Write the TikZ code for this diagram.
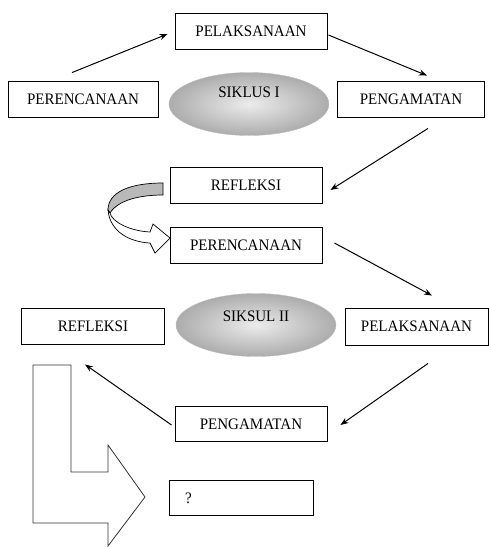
\documentclass[tikz,border=0pt]{standalone}
\usepackage{fontspec}
\setmainfont{Liberation Serif}[FakeStretch=0.94]
\usetikzlibrary{arrows.meta,shapes.geometric}

\begin{document}
\begin{tikzpicture}[x=1pt,y=-1pt,font=\fontsize{16}{18}\selectfont]
        % Setup the styles for the boxes, ovals and arrows
        \tikzset{box style/.style={draw,
                                   line width=0.9pt,
                                   minimum width=152pt,
                                   minimum height=36pt,
                                   inner sep=0pt},
                 oval style/.style={ellipse,
                                    draw=gray!50,
                                    inner color=gray!15,
                                    outer color=gray!65,
                                    minimum width=160pt,
                                    minimum height=63pt},
                 link/.style={line width=1pt,
                              -{Stealth[length=8pt,width=6pt]}}}
        \useasboundingbox (0,0) rectangle (489,547);

        % Siklus I
        \node[box style] at (251,31)  (pel1) {PELAKSANAAN};
        \node[box style, minimum width=150pt] at (83,99) (per1) {PERENCANAAN};
        \node[box style, minimum width=147pt] at (411,99) (pen1) {PENGAMATAN};
        \node[oval style, label={[yshift=12pt]center:SIKLUS I}] at (249,104) (sik1) {};
        \node[box style] at (246,185) (ref1) {REFLEKSI};

        % Siklus II
        \node[box style] at (246,245) (per2) {PERENCANAAN};
        \node[box style, minimum width=143pt] at (93,326) (ref2) {REFLEKSI};
        \node[oval style, label={[yshift=9pt]center:SIKSUL II}] at (256,325) (sik2) {};
        \node[box style, minimum width=143pt, minimum height=37pt] at (416.5,326.5) (pel2) {PELAKSANAAN};
        \node[box style, minimum height=35pt] at (251,424) (pen2) {PENGAMATAN};
        \node[box style, minimum width=144pt, minimum height=35pt,
              text width=112pt, align=left] at (241,498) (ask) {?};

        % Connect the boxes with arrows
        \draw[link] ([xshift=-11pt,yshift=8pt]per1.north) -- ([xshift=-7pt,yshift=-3pt]pel1.west);
        \draw[link] ([xshift=1pt,yshift=-4pt]pel1.east) -- ([xshift=16pt,yshift=5pt]pen1.north);
        \draw[link] ([xshift=17pt,yshift=-11pt]pen1.south) -- ([xshift=8pt,yshift=-5pt]ref1.east);
        \draw[link] ([xshift=12pt,yshift=2pt]per2.east) -- ([xshift=15.5pt,yshift=12pt]pel2.north);
        \draw[link] ([xshift=11.5pt,yshift=-18pt]pel2.south) -- ([xshift=13pt,yshift=-1pt]pen2.east);
        \draw[link] ([xshift=-3pt,yshift=-1pt]pen2.west) -- ([xshift=-8pt,yshift=-20pt]ref2.south);

        % Curved arrow from refleksi to perencanaan
        \draw[line width=0.7pt, fill=gray!55]
            (163,183) .. controls (130,183) and (108,192) .. (108,210)
            -- (110,213) .. controls (118,200) and (140,195) .. (163,195) -- cycle;
        \draw[line width=0.7pt, fill=white]
            (108,210) .. controls (110,232) and (130,242) .. (150,243)
            -- (155,253) -- (170,238) -- (153,224) -- (150,232)
            .. controls (130,231) and (112,222) .. (110,213) -- cycle;

        % Big bent arrow
        \draw[line width=0.8pt, draw=gray!40!black]
            (33,365) -- (71,365) -- (71,472) -- (108,472) -- (108,445)
            -- (145,497) -- (108,546) -- (108,523) -- (33,523) -- cycle;
\end{tikzpicture}
\end{document}
